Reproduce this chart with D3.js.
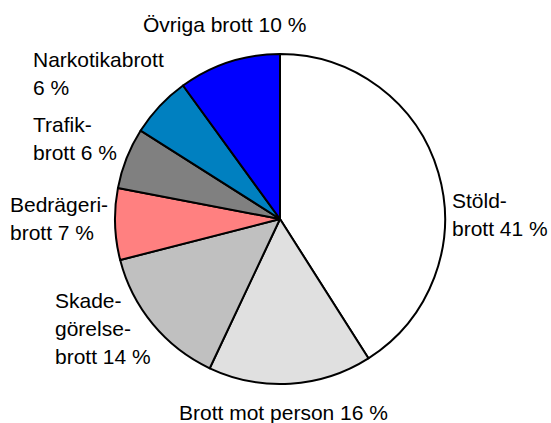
<!DOCTYPE html>
<html>
<head>
<meta charset="utf-8">
<script src="https://cdn.jsdelivr.net/npm/d3@7/dist/d3.min.js"></script>
<style>
  html, body { margin: 0; padding: 0; background: #fff; }
  svg text { font-family: "Liberation Sans", Arial, sans-serif; font-size: 21px; fill: #000; }
</style>
</head>
<body>
<svg id="chart" width="551" height="423"></svg>
<script>
// crime categories, clockwise from 12 o'clock
var categories = ['Stöldbrott', 'Brott mot person', 'Skadegörelsebrott', 'Bedrägeribrott', 'Trafikbrott', 'Narkotikabrott', 'Övriga brott'];
var shares = [41, 16, 14, 7, 6, 6, 10];
var labelLines = [
    ['Stöld-', 'brott 41 %'],
    ['Brott mot person 16 %'],
    ['Skade-', 'görelse-', 'brott 14 %'],
    ['Bedrägeri-', 'brott 7 %'],
    ['Trafik-', 'brott 6 %'],
    ['Narkotikabrott', '6 %'],
    ['Övriga brott 10 %']
];
var colors = ['#ffffff', '#e0e0e0', '#c0c0c0', '#ff8080', '#808080', '#0080c0', '#0000ff'];

// label anchor (x, first baseline)
var labelAt = [[452, 208], [179, 420], [55, 308], [10, 212], [33, 132], [33, 67], [143, 32]];
var lineHeight = 28;

var cx = 280, cy = 219, radius = 165;

var data = categories.map(function(c, i) { return {name: c, value: shares[i]}; });

var pie = d3.pie()
    .sort(null)
    .value(function(d) { return d.value; });

var arc = d3.arc()
    .innerRadius(0)
    .outerRadius(radius);

var svg = d3.select('#chart');

var g = svg.append('g')
    .attr('transform', 'translate(' + cx + ',' + cy + ')');

g.selectAll('path.slice')
    .data(pie(data))
    .enter()
    .append('path')
    .attr('class', 'slice')
    .attr('d', arc)
    .attr('fill', function(d, i) { return colors[i]; })
    .attr('stroke', '#000')
    .attr('stroke-width', 2)
    .attr('stroke-linejoin', 'round');

var labels = svg.selectAll('text.label')
    .data(labelLines)
    .enter()
    .append('text')
    .attr('class', 'label')
    .attr('x', function(d, i) { return labelAt[i][0]; })
    .attr('y', function(d, i) { return labelAt[i][1]; });

labels.each(function(lines, i) {
    var t = d3.select(this);
    lines.forEach(function(line, j) {
        t.append('tspan')
            .attr('x', labelAt[i][0])
            .attr('y', labelAt[i][1] + j * lineHeight)
            .text(line);
    });
});
</script>
</body>
</html>
